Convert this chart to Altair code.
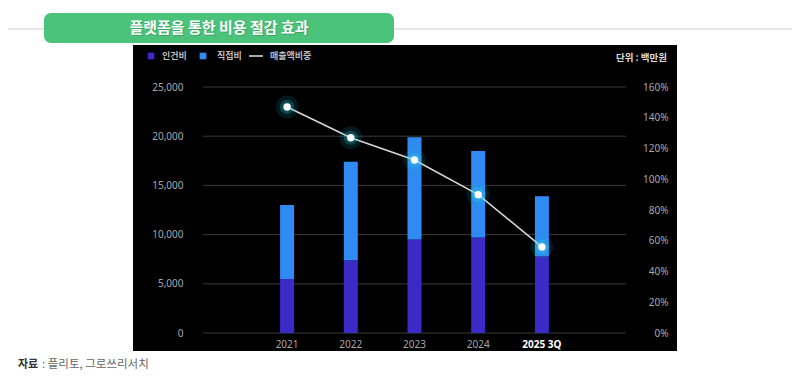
import altair as alt
import pandas as pd

# ---- data ----
years = ["2021", "2022", "2023", "2024", "2025 3Q"]
labor_cost = [5500, 7400, 9500, 9700, 7800]          # 인건비 (백만원)
direct_cost = [7500, 10000, 10400, 8800, 6100]       # 직접비 (백만원)
sales_ratio = [1.47, 1.27, 1.125, 0.90, 0.56]        # 매출액비중
series_names = ["인건비", "직접비", "매출액비중"]
left_ticks = [0, 5000, 10000, 15000, 20000, 25000]
right_ticks = [0, 0.2, 0.4, 0.6, 0.8, 1.0, 1.2, 1.4, 1.6]
title_text = "플랫폼을 통한 비용 절감 효과"
unit_text = "단위 : 백만원"
source_label = "자료"
source_text = ": 플리토, 그로쓰리서치"

# ---- styling ----
W, H = 423, 246
PURPLE = "#3a2ac6"
BLUE = "#2f8bf3"
GREEN = "#4cc37a"
KR = "Noto Sans CJK KR"
NUM = "Noto Sans"

bars_df = pd.DataFrame({
    "year": years * 2,
    "series": [series_names[0]] * len(years) + [series_names[1]] * len(years),
    "value": labor_cost + direct_cost,
    "order": [0] * len(years) + [1] * len(years),
})
line_df = pd.DataFrame({"year": years, "ratio": sales_ratio})
grid_df = pd.DataFrame({"v": left_ticks})
one = pd.DataFrame({"a": [0]})

xscale = alt.Scale(type="band", domain=years, paddingInner=0, paddingOuter=0.82)
xaxis = alt.Axis(
    title=None, domain=False, ticks=False, tickSize=0, labelPadding=6,
    labelAngle=0, labelFont=NUM, labelFontSize=10, zindex=1,
    labelColor={"condition": {"test": "datum.value === '2025 3Q'", "value": "#ffffff"}, "value": "#a8a8a8"},
    labelFontWeight={"condition": {"test": "datum.value === '2025 3Q'", "value": "bold"}, "value": "normal"},
)
X = alt.X("year:N", scale=xscale, sort=years, axis=xaxis)

base = alt.Chart(one)

# decorations
gray_line = base.mark_rule(color="#cfcfcf", strokeWidth=1).encode(
    x=alt.value(-197), x2=alt.value(592), y=alt.value(-58))
green_box = base.mark_rect(color=GREEN, cornerRadius=7).encode(
    x=alt.value(-159), x2=alt.value(191), y=alt.value(-74), y2=alt.value(-44))
title_shadow = base.mark_text(text=title_text, font=KR, fontSize=15, fontWeight="bold",
                              color="#1e6b3c", opacity=0.35, align="center", baseline="middle").encode(
    x=alt.value(17), y=alt.value(-58))
title = base.mark_text(text=title_text, font=KR, fontSize=15, fontWeight="bold",
                       color="#ffffff", align="center", baseline="middle").encode(
    x=alt.value(16), y=alt.value(-59))
panel = base.mark_rect(color="#000000").encode(
    x=alt.value(-70), x2=alt.value(474), y=alt.value(-42), y2=alt.value(264))

LEG = dict(font=KR, fontSize=9, fontWeight="bold", color="#bdbdbd", align="left", baseline="middle")
leg_sq1 = base.mark_square(size=45, color=PURPLE, opacity=1).encode(x=alt.value(-52), y=alt.value(-31))
leg_tx1 = base.mark_text(text=series_names[0], **LEG).encode(x=alt.value(-41), y=alt.value(-31))
leg_sq2 = base.mark_square(size=45, color=BLUE, opacity=1).encode(x=alt.value(0), y=alt.value(-31))
leg_tx2 = base.mark_text(text=series_names[1], **LEG).encode(x=alt.value(14), y=alt.value(-31))
leg_ln3 = base.mark_rule(color="#e0e0e0", strokeWidth=1.5).encode(
    x=alt.value(46), x2=alt.value(60), y=alt.value(-31))
leg_tx3 = base.mark_text(text=series_names[2], **LEG).encode(x=alt.value(67), y=alt.value(-31))
unit = base.mark_text(text=unit_text, font=KR, fontSize=9.5, fontWeight="bold", color="#dcdcdc",
                      align="right", baseline="middle").encode(x=alt.value(464), y=alt.value(-29))

src1 = base.mark_text(text=source_label, font=KR, fontSize=11, fontWeight="bold", color="#333333",
                      align="left", baseline="middle").encode(x=alt.value(-185), y=alt.value(278))
src2 = base.mark_text(text=source_text, font=KR, fontSize=11.5, color="#666666",
                      align="left", baseline="middle").encode(x=alt.value(-161), y=alt.value(278))

# gridlines (left scale)
grid = alt.Chart(grid_df).mark_rule(color="#3a3a3a", strokeWidth=1).encode(
    y=alt.Y("v:Q", scale=alt.Scale(domain=[0, 25000], nice=False), axis=None),
    x=alt.value(0), x2=alt.value(W))

bars = alt.Chart(bars_df).mark_bar(size=14).encode(
    x=X,
    y=alt.Y("value:Q", stack="zero", scale=alt.Scale(domain=[0, 25000], nice=False),
            axis=alt.Axis(orient="left", values=left_ticks, format=",.0f", grid=False, domain=False,
                          ticks=False, tickSize=0, labelPadding=20, labelColor="#a8a8a8",
                          labelFont=NUM, labelFontSize=10, title=None, zindex=1)),
    color=alt.Color("series:N", scale=alt.Scale(domain=series_names[:2], range=[PURPLE, BLUE]), legend=None),
    order=alt.Order("order:Q"),
)

Yr = alt.Scale(domain=[0, 1.6], nice=False)
line = alt.Chart(line_df).mark_line(color="#d8d8d8", strokeWidth=1.5).encode(
    x=X,
    y=alt.Y("ratio:Q", scale=Yr,
            axis=alt.Axis(orient="right", values=right_ticks, format=".0%", grid=False, domain=False,
                          ticks=False, tickSize=0, labelAlign="right", labelPadding=42,
                          labelColor="#a8a8a8", labelFont=NUM, labelFontSize=10, title=None, zindex=1)),
)
glow1 = alt.Chart(line_df).mark_circle(color="#0fb8d0", opacity=0.14, size=520).encode(
    x=X, y=alt.Y("ratio:Q", scale=Yr, axis=None))
glow2 = alt.Chart(line_df).mark_circle(color="#2fd8ea", opacity=0.25, size=200).encode(
    x=X, y=alt.Y("ratio:Q", scale=Yr, axis=None))
points = alt.Chart(line_df).mark_circle(color="#ffffff", opacity=1, size=55).encode(
    x=X, y=alt.Y("ratio:Q", scale=Yr, axis=None))

chart = alt.layer(
    gray_line, green_box, title_shadow, title, panel,
    leg_sq1, leg_tx1, leg_sq2, leg_tx2, leg_ln3, leg_tx3, unit, src1, src2,
    grid, bars, line, glow1, glow2, points,
).resolve_scale(y="independent").properties(
    width=W, height=H,
    autosize=alt.AutoSizeParams(type="none"),
    padding={"left": 195, "top": 79, "right": 166, "bottom": 45},
    background="#ffffff",
).configure_view(stroke=None)

chart.save("out.html", embed_options={"renderer": "svg", "actions": False})
